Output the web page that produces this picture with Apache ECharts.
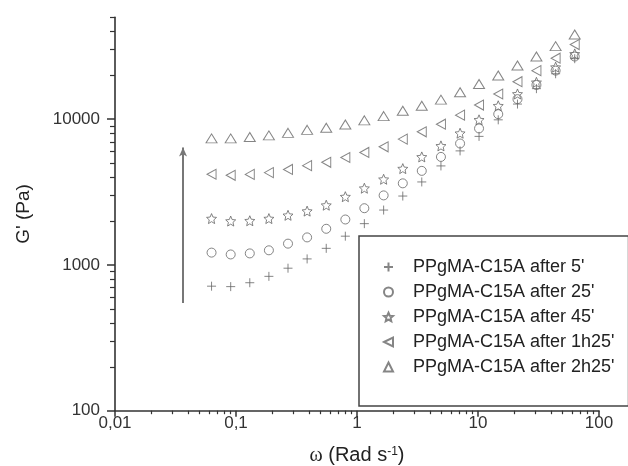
<!DOCTYPE html>
<html><head><meta charset="utf-8">
<script src="https://cdn.jsdelivr.net/npm/echarts@6/dist/echarts.min.js"></script>
<style>html,body{margin:0;padding:0;background:#fff}#c{width:628px;height:466px}</style>
</head><body><div id="c"></div>
<script>
// angular frequency (rad/s)
const omega = [0.0628, 0.0904, 0.130, 0.187, 0.269, 0.387, 0.557, 0.801, 1.15, 1.66, 2.39, 3.43, 4.94, 7.11, 10.2, 14.7, 21.2, 30.4, 43.8, 63.0];
// G' (Pa) per sample
const g5    = [715, 710, 755, 835, 950, 1100, 1300, 1575, 1920, 2380, 2970, 3710, 4780, 6060, 7620, 9900, 12700, 16200, 20500, 26000];
const g25   = [1215, 1180, 1200, 1260, 1400, 1545, 1770, 2050, 2450, 3000, 3630, 4420, 5510, 6810, 8640, 10830, 13730, 17170, 21530, 26900];
const g45   = [2080, 2000, 2010, 2080, 2190, 2340, 2570, 2940, 3360, 3870, 4580, 5510, 6560, 8010, 9900, 12360, 14890, 17900, 22740, 28050];
const g1h25 = [4190, 4120, 4180, 4300, 4520, 4800, 5060, 5460, 5910, 6460, 7300, 8190, 9240, 10660, 12500, 14890, 18070, 21530, 26200, 32500];
const g2h25 = [7380, 7380, 7550, 7740, 8060, 8450, 8740, 9200, 9820, 10500, 11430, 12360, 13610, 15290, 17420, 19920, 23360, 26900, 31700, 38100];
const seriesNames = ["PPgMA-C15A after 5'", "PPgMA-C15A after 25'", "PPgMA-C15A after 45'", "PPgMA-C15A after 1h25'", "PPgMA-C15A after 2h25'"];

const xTickValues = [0.01, 0.1, 1, 10, 100];
const xTickLabels = ['0,01', '0,1', '1', '10', '100'];
const yTickValues = [100, 1000, 10000];
const yTickLabels = ['100', '1000', '10000'];
const xMinorTicks = [0.02,0.03,0.04,0.05,0.06,0.07,0.08,0.09, 0.2,0.3,0.4,0.5,0.6,0.7,0.8,0.9, 2,3,4,5,6,7,8,9, 20,30,40,50,60,70,80,90];
const yMinorTicks = [200,300,400,500,600,700,800,900, 2000,3000,4000,5000,6000,7000,8000,9000, 20000,30000,40000,50000];
const arrowX = 0.0365;
const arrowY = [548, 6400];

const allY = [g5, g25, g45, g1h25, g2h25];
const symbols = [
  'path://M5,0L5,10M0,5L10,5',
  'circle',
  'path://M5,0L6.35,3.14L9.76,3.45L7.19,5.71L7.94,9.05L5,7.3L2.06,9.05L2.81,5.71L0.24,3.45L3.65,3.14Z',
  'path://M0,5L10,0L10,10Z',
  'triangle'
];
const sizes = [9, 9, 10, [9, 10], [11, 9]];

function lookup(vals, labels, v) {
  for (let i = 0; i < vals.length; i++) {
    if (Math.abs(Math.log10(v) - Math.log10(vals[i])) < 1e-6) return labels[i];
  }
  return '';
}

const FONT = 'Liberation Sans';
const MARK = '#666';
const AX = '#333';

const series = allY.map((ys, k) => ({
  name: seriesNames[k],
  type: 'scatter',
  xAxisIndex: 0, yAxisIndex: 0,
  symbol: symbols[k],
  symbolSize: sizes[k],
  itemStyle: { color: 'rgba(0,0,0,0)', borderColor: MARK, borderWidth: 1 },
  data: omega.map((w, i) => [w, ys[i]]),
  z: 3
}));
series[0].markLine = {
  silent: true,
  symbol: ['none', 'arrow'],
  symbolSize: [6, 9],
  label: { show: false },
  lineStyle: { color: '#777', width: 2, type: 'solid' },
  data: [[{ coord: [arrowX, arrowY[0]] }, { coord: [arrowX, arrowY[1]] }]]
};

const chart = echarts.init(document.getElementById('c'), null, { renderer: 'canvas' });
chart.setOption({
  animation: false,
  backgroundColor: '#fff',
  grid: { left: 115, right: 29, top: 17.3, bottom: 55.3, outerBoundsMode: 'none', containLabel: false },
  legend: {
    orient: 'vertical', left: 359, top: 236,
    padding: [22, 14, 30, 24],
    itemWidth: 9, itemHeight: 9, itemGap: 7,
    borderColor: '#444', borderWidth: 1.5,
    textStyle: { fontSize: 18, fontFamily: FONT, color: '#222', lineHeight: 15, padding: [0, 0, 0, 15] },
    data: seriesNames
  },
  xAxis: [{
    type: 'log', min: 0.01, max: 100, logBase: 10,
    name: '{w|ω} (Rad s{sup|-1})', nameLocation: 'middle', nameGap: 35,
    nameTextStyle: { fontSize: 20, fontFamily: FONT, color: '#222',
      rich: { w: { fontFamily: 'Liberation Serif', fontSize: 20, color: '#222' },
              sup: { fontSize: 12, fontFamily: FONT, color: '#222', verticalAlign: 'top', padding: [0, 0, 8, 0] } } },
    axisLine: { show: true, lineStyle: { color: AX, width: 1.6 } },
    axisTick: { show: true, inside: false, length: 6, customValues: xTickValues, lineStyle: { color: AX, width: 1.5 } },
    axisLabel: { show: true, customValues: xTickValues, margin: 4, fontSize: 17, fontFamily: FONT, color: '#333',
      formatter: v => lookup(xTickValues, xTickLabels, v) },
    splitLine: { show: false }, minorTick: { show: false }
  }, {
    type: 'log', min: 0.01, max: 100, logBase: 10, position: 'bottom',
    axisLine: { show: false },
    axisTick: { show: true, length: 3.5, customValues: xMinorTicks, lineStyle: { color: AX, width: 1.2 } },
    axisLabel: { show: false }, splitLine: { show: false }
  }],
  yAxis: [{
    type: 'log', min: 100, max: 50000, logBase: 10,
    name: "G' (Pa)", nameLocation: 'middle', nameGap: 82, nameRotate: 90,
    nameTextStyle: { fontSize: 19, fontFamily: FONT, color: '#222' },
    axisLine: { show: true, lineStyle: { color: AX, width: 1.6 } },
    axisTick: { show: true, inside: false, length: 8, customValues: yTickValues, lineStyle: { color: AX, width: 1.5 } },
    axisLabel: { show: true, customValues: yTickValues, margin: 15, fontSize: 17, fontFamily: FONT, color: '#333',
      formatter: v => lookup(yTickValues, yTickLabels, v) },
    splitLine: { show: false }, minorTick: { show: false }
  }, {
    type: 'log', min: 100, max: 50000, logBase: 10, position: 'left', offset: 0,
    axisLine: { show: false },
    axisTick: { show: true, length: 5, customValues: yMinorTicks, lineStyle: { color: AX, width: 1.2 } },
    axisLabel: { show: false }, splitLine: { show: false }
  }],
  series: series
});
</script>
</body></html>
